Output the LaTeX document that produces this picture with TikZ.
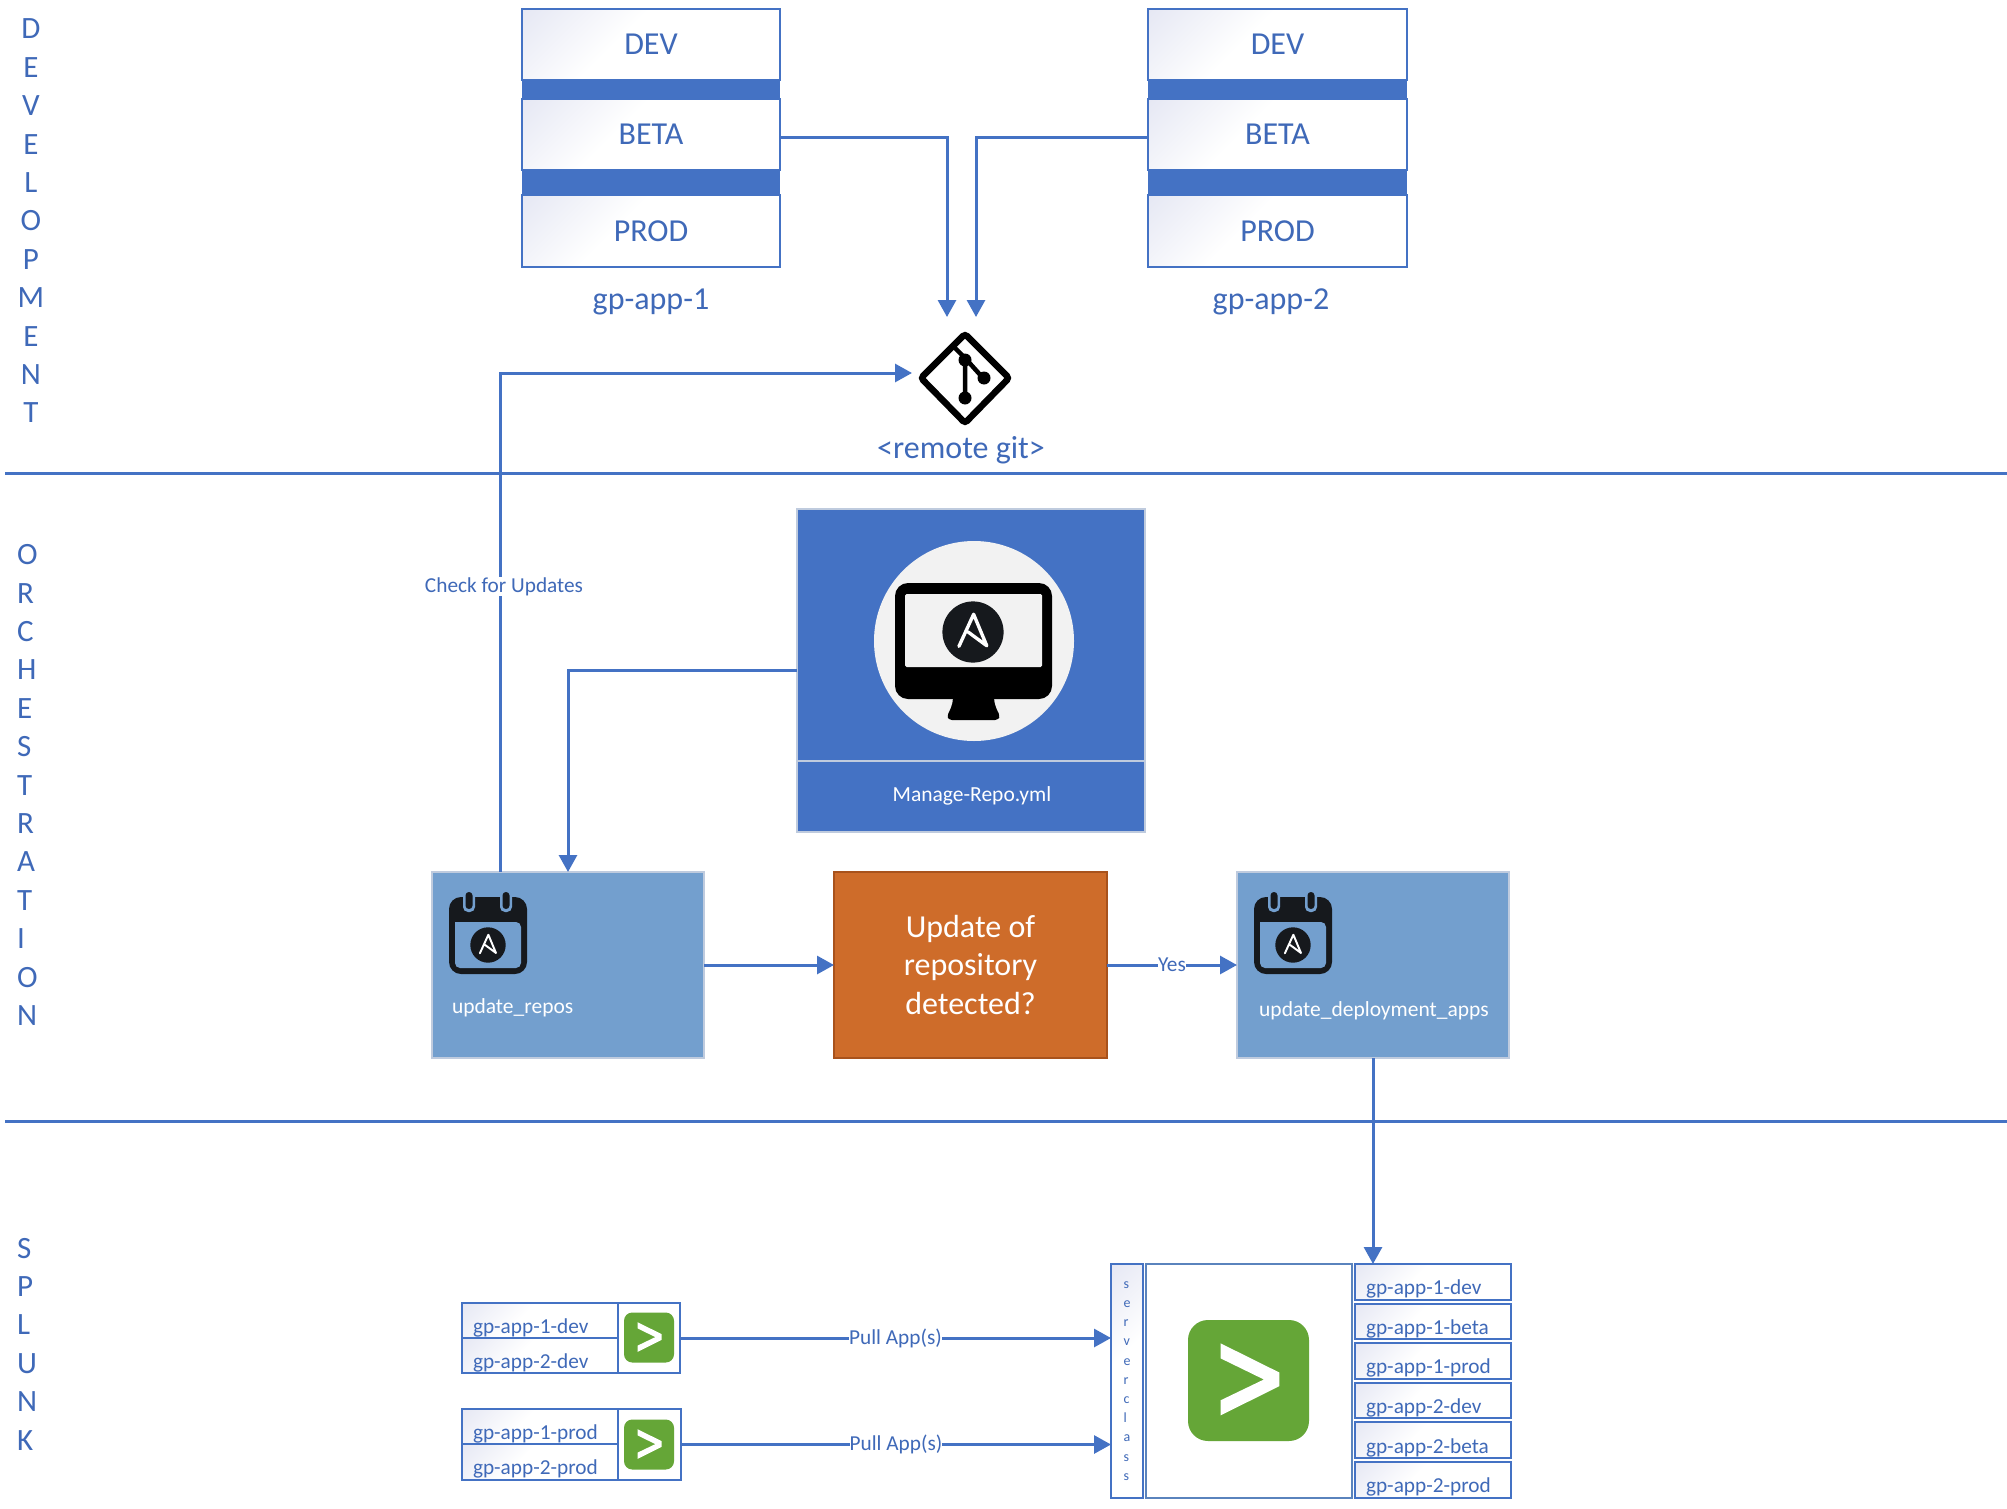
\documentclass[tikz,border=0pt]{standalone}
\usepackage{fontspec}
\setmainfont{Carlito}
\usetikzlibrary{arrows.meta,calc}
\definecolor{lineblue}{HTML}{4472C4}
\definecolor{textblue}{HTML}{3F69B8}
\definecolor{boxblue}{HTML}{739FCE}
\definecolor{paleedge}{HTML}{BFCBDE}
\definecolor{serveredge}{HTML}{5A83BD}
\definecolor{orangefill}{HTML}{CE6C2A}
\definecolor{orangeedge}{HTML}{A8521C}
\definecolor{splunkgreen}{HTML}{65A637}
\definecolor{icondark}{HTML}{16191D}
\definecolor{softwhite}{HTML}{F2F2F2}
\definecolor{grad}{HTML}{E6E8F4}
\pgfdeclarehorizontalshading{gradfade}{100bp}{color(0bp)=(grad); color(15bp)=(grad); color(42bp)=(white); color(100bp)=(white)}
\newcommand\fs[2]{\fontsize{#1}{#2}\selectfont}
% name, x0, y0, x1, y1, style, text
\newcommand\bx[7]{\node[#6, minimum width={(#4-#2)*1pt}, minimum height={(#5-#3)*1pt}] (#1) at ({(#2+#4)/2},{(#3+#5)/2}) {#7};}
\newcommand\ansiblemark[3]{%
  \begin{scope}[shift={(#1,#2)},x=#3pt,y=-#3pt]
    \fill[icondark] (0,0) circle (1);
    \draw[white,line width=0.11*#3pt,line cap=round,line join=round] (-0.46,0.47) -- (0.02,-0.58) -- (0.45,0.45) -- (-0.16,0.0);
  \end{scope}}
\newcommand\calicon[2]{%
  \begin{scope}[shift={(#1,#2)}]
    \fill[icondark,rounded corners=12pt] (0,0) rectangle (78,77);
    \fill[boxblue,rounded corners=5pt] (6,25) -- (6,71) -- (72,71) -- (72,25) [sharp corners] -- cycle;
    \fill[boxblue,rounded corners=5pt] (14,-6) rectangle (26,15);
    \fill[boxblue,rounded corners=5pt] (51,-6) rectangle (63,15);
    \fill[icondark,rounded corners=3.4pt] (16.5,-5) rectangle (23.5,12);
    \fill[icondark,rounded corners=3.4pt] (53.5,-5) rectangle (60.5,12);
  \end{scope}}
\newcommand\splunkmark[3]{%
  \begin{scope}[shift={(#1,#2)},x=#3pt,y=-#3pt]
    \fill[splunkgreen,rounded corners=0.33*#3pt] (-1,-1) rectangle (1,1);
    \fill[white] (-0.459,-0.613) -- (0.508,-0.133) -- (0.508,0.094) -- (-0.459,0.575) -- (-0.459,0.326) -- (0.254,-0.017) -- (-0.459,-0.365) -- cycle;
  \end{scope}}
\tikzset{
  x=1pt,y=-1pt,
  conn/.style={draw=lineblue,line width=3pt,-{Triangle[length=17pt,width=18pt]}},
  ruleline/.style={draw=lineblue,line width=3pt},
  plainbox/.style={inner sep=0pt,outer sep=0pt,text=textblue},
  gradbox/.style={plainbox,draw=lineblue,line width=2.5pt,shading=gradfade,shading angle=-45,font={\fs{32}{36}}},
  bandbox/.style={plainbox,fill=lineblue},
  captxt/.style={plainbox,font={\fs{32}{36}}},
  rowlabel/.style={plainbox,font={\fs{21.3}{25}},anchor=base west},
  lanelabel/.style={plainbox,font={\fs{31}{38.4}},align=#1},
  taskbox/.style={plainbox,fill=boxblue,draw=paleedge,line width=1.5pt},
  whitetext/.style={plainbox,text=white,font={\fs{21.5}{25}}},
  chip/.style={plainbox,fill=white,font={\fs{21.3}{25}}},
  iconcell/.style={plainbox,fill=white,draw=lineblue,line width=2.5pt}
}
\begin{document}
\begin{tikzpicture}
\useasboundingbox (0,0) rectangle (2007,1509);
% lanes
\coordinate (rA0) at (5,473); \coordinate (rA1) at (2007,473);
\coordinate (rB0) at (5,1121); \coordinate (rB1) at (2007,1121);
\draw[ruleline] (rA0) -- (rA1);
\draw[ruleline] (rB0) -- (rB1);
\node[lanelabel=center] (laneDev) at (31,221) {D\\E\\V\\E\\L\\O\\P\\M\\E\\N\\T};
\node[lanelabel=left,anchor=west] (laneOrch) at (17,785) {O\\R\\C\\H\\E\\S\\T\\R\\A\\T\\I\\O\\N};
\node[lanelabel=left,anchor=west] (laneSpl) at (17,1344) {S\\P\\L\\U\\N\\K};
% stacks
\bx{bandA1}{522}{80}{780}{99}{bandbox}{}
\bx{bandA2}{522}{170}{780}{195}{bandbox}{}
\bx{bandB1}{1148}{80}{1407}{99}{bandbox}{}
\bx{bandB2}{1148}{170}{1407}{195}{bandbox}{}
\bx{devA}{522}{9}{780}{80}{gradbox}{DEV}
\bx{betaA}{522}{99}{780}{170}{gradbox}{BETA}
\bx{prodA}{522}{195}{780}{267}{gradbox}{PROD}
\bx{devB}{1148}{9}{1407}{80}{gradbox}{DEV}
\bx{betaB}{1148}{99}{1407}{170}{gradbox}{BETA}
\bx{prodB}{1148}{195}{1407}{267}{gradbox}{PROD}
\node[captxt] (nameA) at (651,302) {gp-app-1};
\node[captxt] (nameB) at (1271,302) {gp-app-2};
% git
\node[plainbox,minimum size=90pt] (git) at (965,378) {};
\draw[black,line width=6.5pt,rounded corners=3pt] (921,378) -- (965,334) -- (1009,378) -- (965,423) -- cycle;
\draw[black,line width=4.5pt] (955,348) -- (965,358) -- (965,398);
\draw[black,line width=4.5pt] (965,358) -- (983,378);
\fill[black] (965,360) circle (6.5);
\fill[black] (984,378) circle (6.5);
\fill[black] (965,398) circle (6.5);
\node[captxt] (gitlabel) at (961,450) {<remote git>};
\coordinate (gitinA) at (947,317);
\coordinate (gitinB) at (976,317);
\coordinate (gitinC) at (912,373);
% manage
\bx{manage}{797}{509}{1145}{832}{taskbox,fill=lineblue}{}
\draw[paleedge,line width=1.5pt] (manage.west |- 0,761) -- (manage.east |- 0,761);
\fill[softwhite] (974,641) circle (100);
\fill[black,rounded corners=13pt] (895,583) rectangle (1052,699);
\fill[black,rounded corners=3pt] (953,695) -- (994,695) .. controls (994,705) and (998,712) .. (1000,716) -- (998,720) -- (949,720) -- (947,716) .. controls (949,712) and (953,705) .. (953,695) -- cycle;
\fill[softwhite,rounded corners=1.5pt] (905,594) rectangle (1042,667);
\ansiblemark{973}{632}{30.6}
\node[whitetext] (managetxt) at (972,796) {Manage-Repo.yml};
% tasks
\bx{repos}{432}{872}{704}{1058}{taskbox}{}
\calicon{449}{897}
\ansiblemark{488}{945}{17.7}
\node[whitetext,anchor=base west] (repostxt) at (452,1013) {update\_repos};
\bx{decision}{834}{872}{1107}{1058}{plainbox,fill=orangefill,draw=orangeedge,line width=1.5pt,text=white,align=center,font={\fs{32}{38.4}}}{\raisebox{1pt}{Update of}\\\raisebox{1pt}{repository}\\\raisebox{1pt}{detected?}}
\bx{deploy}{1237}{872}{1509}{1058}{taskbox}{}
\calicon{1254}{897}
\ansiblemark{1293}{945}{17.7}
\node[whitetext] (deploytxt) at (1374,1011) {update\_deployment\_apps};
% splunk sources
\bx{srcOneA}{462}{1303}{618}{1338}{gradbox}{}
\bx{srcOneB}{462}{1338}{618}{1373}{gradbox}{}
\bx{srcOne}{618}{1303}{680}{1373}{iconcell}{}
\splunkmark{649}{1337.5}{25}
\node[rowlabel] (t1) at (473,1333) {gp-app-1-dev};
\node[rowlabel] (t2) at (473,1368) {gp-app-2-dev};
\bx{srcTwoA}{462}{1409}{618}{1444}{gradbox}{}
\bx{srcTwoB}{462}{1444}{618}{1480}{gradbox}{}
\bx{srcTwo}{618}{1409}{681}{1480}{iconcell}{}
\splunkmark{649}{1444.5}{25}
\node[rowlabel] (t3) at (473,1439) {gp-app-1-prod};
\node[rowlabel] (t4) at (473,1474) {gp-app-2-prod};
% deployment server
\bx{sclass}{1111}{1264}{1143}{1498}{gradbox,align=left,font={\fs{14}{19.2}}}{s\\e\\r\\v\\e\\r\\c\\l\\a\\s\\s}
\bx{server}{1146}{1264}{1352}{1498}{iconcell,draw=serveredge,line width=2pt}{}
\splunkmark{1248.5}{1380.5}{60.5}
\bx{app1}{1355}{1264}{1511}{1300}{gradbox}{}
\bx{app2}{1355}{1304}{1511}{1339}{gradbox}{}
\bx{app3}{1355}{1343}{1511}{1379}{gradbox}{}
\bx{app4}{1355}{1383}{1511}{1418}{gradbox}{}
\bx{app5}{1355}{1422}{1511}{1458}{gradbox}{}
\bx{app6}{1355}{1462}{1511}{1498}{gradbox}{}
\node[rowlabel] (a1) at (1366,1294) {gp-app-1-dev};
\node[rowlabel] (a2) at (1366,1334) {gp-app-1-beta};
\node[rowlabel] (a3) at (1366,1373) {gp-app-1-prod};
\node[rowlabel] (a4) at (1366,1413) {gp-app-2-dev};
\node[rowlabel] (a5) at (1366,1453) {gp-app-2-beta};
\node[rowlabel] (a6) at (1366,1492) {gp-app-2-prod};
% connectors
\draw[conn] ([yshift=-3.5pt]betaA.east) -| (gitinA);
\draw[conn] ([yshift=-3.5pt]betaB.west) -| (gitinB);
\draw[conn] ([xshift=-68pt]repos.north) |- (gitinC) node[pos=0.286,xshift=4pt,chip] (chk) {Check for Updates};
\draw[conn] (manage.west) -| (repos.north);
\draw[conn] (repos.east) -- (decision.west);
\draw[conn] (decision.east) -- node[chip,pos=0.5] (yes) {Yes} (deploy.west);
\draw[conn] (deploy.south) -- (deploy.south |- app1.north);
\draw[conn] (srcOne.east) -- node[chip,pos=0.5] (p1) {Pull App(s)} (srcOne.east -| sclass.west);
\draw[conn] (srcTwo.east) -- node[chip,pos=0.5] (p2) {Pull App(s)} (srcTwo.east -| sclass.west);
\end{tikzpicture}
\end{document}
